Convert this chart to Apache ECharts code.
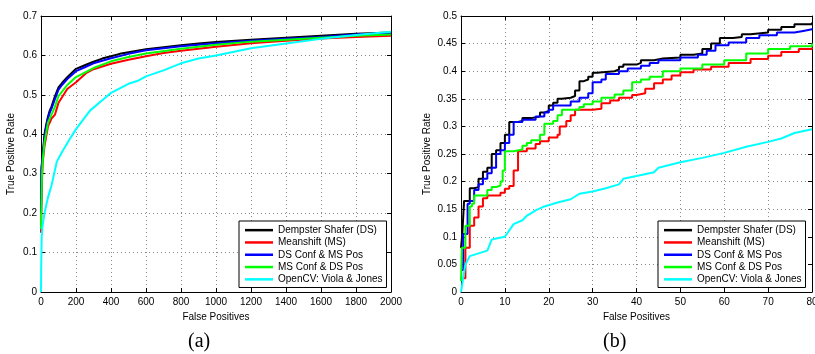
<!DOCTYPE html>
<html>
<head>
<meta charset="utf-8">
<script src="https://cdn.jsdelivr.net/npm/echarts@6/dist/echarts.min.js"></script>
<style>
html,body{margin:0;padding:0;background:#fff;}
#c{width:815px;height:354px;}
</style>
</head>
<body>
<div id="c"></div>
<script>
// ---- Series names ----
const seriesNames = ['Dempster Shafer (DS)', 'Meanshift (MS)', 'DS Conf & MS Pos', 'MS Conf & DS Pos', 'OpenCV: Viola & Jones'];
const seriesColors = ['#000000', '#ff0000', '#0000ff', '#00ff00', '#00ffff'];

// ---- Panel (a): False Positives 0..2000 ----
const aTicksX = [0, 200, 400, 600, 800, 1000, 1200, 1400, 1600, 1800, 2000];
const aTicksY = [0, 0.1, 0.2, 0.3, 0.4, 0.5, 0.6, 0.7];
const aDS = [[0,0.21],[3,0.317],[10,0.35],[20,0.40],[30,0.425],[40,0.445],[50,0.46],[60,0.47],[80,0.497],[100,0.519],[120,0.53],[150,0.545],[200,0.566],[250,0.575],[300,0.584],[350,0.592],[400,0.598],[450,0.604],[500,0.608],[600,0.616],[700,0.621],[800,0.626],[900,0.63],[1000,0.634],[1200,0.64],[1400,0.645],[1600,0.65],[1800,0.655],[2000,0.658]];
const aMS = [[0,0.15],[5,0.28],[10,0.33],[20,0.37],[40,0.42],[60,0.44],[80,0.45],[90,0.465],[100,0.48],[150,0.515],[200,0.532],[260,0.556],[300,0.565],[400,0.579],[500,0.589],[600,0.598],[700,0.606],[800,0.612],[1000,0.622],[1200,0.631],[1400,0.637],[1600,0.643],[1800,0.647],[2000,0.65]];
const aDSConf = [[0,0.2],[3,0.31],[10,0.345],[20,0.39],[30,0.42],[40,0.44],[50,0.455],[60,0.465],[80,0.49],[100,0.513],[120,0.525],[150,0.54],[200,0.56],[250,0.57],[300,0.58],[400,0.593],[500,0.604],[600,0.613],[700,0.618],[800,0.623],[1000,0.631],[1200,0.637],[1400,0.642],[1600,0.647],[1800,0.653],[2000,0.657]];
const aMSConf = [[0,0.16],[5,0.29],[10,0.335],[20,0.38],[40,0.43],[60,0.45],[80,0.47],[100,0.497],[150,0.525],[200,0.545],[300,0.568],[400,0.585],[500,0.596],[600,0.605],[800,0.617],[1000,0.627],[1200,0.635],[1400,0.64],[1600,0.645],[1800,0.65],[2000,0.653]];
const aCV = [[0,0],[1,0.06],[4,0.14],[8,0.165],[20,0.2],[40,0.24],[60,0.27],[80,0.31],[90,0.33],[120,0.355],[160,0.385],[200,0.413],[280,0.46],[360,0.49],[400,0.505],[500,0.528],[550,0.535],[600,0.547],[700,0.562],[800,0.58],[900,0.592],[1000,0.6],[1200,0.618],[1400,0.63],[1600,0.642],[1800,0.652],[2000,0.66]];

// ---- Panel (b): False Positives 0..80 ----
const bTicksX = [0, 10, 20, 30, 40, 50, 60, 70, 80];
const bTicksY = [0, 0.05, 0.1, 0.15, 0.2, 0.25, 0.3, 0.35, 0.4, 0.45, 0.5];
const bDS = [[0,0.08],[0.3,0.105],[0.7,0.165],[2,0.188],[3,0.19],[4,0.205],[5,0.218],[6,0.225],[7,0.25],[8,0.257],[9,0.27],[10,0.285],[11,0.308],[13,0.31],[14,0.315],[16,0.318],[18,0.325],[19,0.328],[20,0.338],[21,0.343],[22,0.35],[23,0.352],[25,0.355],[26,0.365],[27,0.382],[28,0.385],[29,0.39],[30,0.397],[31,0.4],[35,0.403],[36,0.408],[37,0.412],[40,0.415],[41,0.42],[44,0.423],[46,0.425],[50,0.43],[53,0.432],[55,0.44],[57,0.45],[59,0.46],[62,0.462],[64,0.467],[66,0.47],[70,0.475],[73,0.48],[76,0.485],[80,0.488]];
const bMS = [[0,0.025],[1,0.08],[2,0.12],[3,0.135],[4,0.155],[5,0.17],[6,0.175],[9,0.18],[10,0.187],[11,0.192],[12,0.22],[13,0.255],[15,0.26],[17,0.268],[18,0.273],[20,0.28],[22,0.285],[22.5,0.3],[24,0.31],[25,0.32],[26,0.33],[30,0.332],[32,0.342],[34,0.347],[36,0.352],[39,0.357],[40,0.36],[42,0.368],[44,0.378],[46,0.385],[48,0.392],[50,0.398],[53,0.403],[57,0.408],[61,0.415],[66,0.422],[70,0.428],[73,0.435],[77,0.44],[80,0.443]];
const bDSConf = [[0,0.04],[0.5,0.105],[1.5,0.16],[2,0.165],[3,0.185],[4,0.195],[5,0.205],[6,0.215],[7,0.225],[8,0.25],[9,0.257],[10,0.27],[11,0.285],[12,0.308],[14,0.312],[17,0.318],[19,0.325],[20,0.33],[21,0.338],[25,0.345],[27,0.352],[29,0.36],[30,0.38],[32,0.385],[33,0.395],[36,0.4],[38,0.405],[41,0.41],[43,0.415],[45,0.42],[50,0.425],[54,0.43],[56,0.437],[58,0.447],[61,0.452],[65,0.46],[68,0.465],[72,0.47],[76,0.473],[78,0.476],[80,0.478]];
const bMSConf = [[0,0.02],[0.2,0.08],[1,0.12],[2,0.155],[2.5,0.16],[3,0.175],[6,0.185],[7,0.19],[8,0.193],[9,0.2],[9.5,0.22],[10,0.255],[12,0.258],[14,0.265],[15,0.27],[16,0.275],[18,0.285],[19,0.305],[21,0.31],[22,0.32],[23,0.33],[27,0.335],[28,0.34],[30,0.345],[32,0.352],[35,0.358],[37,0.365],[39,0.38],[41,0.385],[43,0.39],[46,0.4],[50,0.405],[55,0.412],[60,0.42],[65,0.432],[70,0.44],[75,0.445],[80,0.45]];
const bCV = [[0,0],[0.3,0.015],[1,0.05],[2,0.065],[4,0.07],[6,0.075],[7,0.095],[10,0.1],[12,0.123],[14,0.13],[15,0.138],[17,0.148],[19,0.155],[22,0.162],[25,0.168],[27,0.178],[30,0.182],[33,0.188],[36,0.195],[37,0.205],[40,0.21],[44,0.217],[45,0.225],[50,0.235],[55,0.243],[60,0.252],[65,0.263],[70,0.272],[73,0.278],[76,0.288],[80,0.295]];

const aData = [aDS, aMS, aDSConf, aMSConf, aCV];
const bData = [bDS, bMS, bDSConf, bMSConf, bCV];

const FONT = 'Liberation Sans, Arial, sans-serif';
const grid = [
  {left: 41, right: 424, top: 16, bottom: 62, outerBoundsMode: 'none', containLabel: false},
  {left: 461, right: 3, top: 16, bottom: 62, outerBoundsMode: 'none', containLabel: false}
];
function xAxes(gi, ticks) {
  const main = {
    type: 'value', gridIndex: gi, min: ticks[0], max: ticks[ticks.length-1],
    interval: ticks[1]-ticks[0], position: 'bottom',
    name: 'False Positives', nameLocation: 'middle', nameGap: 17,
    nameTextStyle: {fontFamily: FONT, fontSize: 10, color: '#000'},
    axisLine: {onZero: false, lineStyle: {color: '#000', width: 1}},
    axisTick: {inside: true, length: 4, lineStyle: {color: '#000'}},
    axisLabel: {fontFamily: FONT, fontSize: 10, color: '#000', margin: 5, showMaxLabel: true,
      hideOverlap: false, formatter: v => String(v)},
    splitLine: {show: true, lineStyle: {color: '#888', type: [1, 3], width: 1}}
  };
  const top = {
    type: 'value', gridIndex: gi, min: ticks[0], max: ticks[ticks.length-1],
    interval: ticks[1]-ticks[0], position: 'top',
    axisLine: {onZero: false, lineStyle: {color: '#000', width: 1}},
    axisTick: {inside: true, length: 4, lineStyle: {color: '#000'}},
    axisLabel: {show: false}, splitLine: {show: false}
  };
  return [main, top];
}
function yAxes(gi, ticks, gap) {
  const iv = Math.round((ticks[1]-ticks[0])*1000)/1000;
  const main = {
    type: 'value', gridIndex: gi, min: ticks[0], max: ticks[ticks.length-1],
    interval: iv, position: 'left',
    name: 'True Positive Rate', nameLocation: 'middle', nameGap: gap,
    nameTextStyle: {fontFamily: FONT, fontSize: 10, color: '#000'},
    axisLine: {onZero: false, lineStyle: {color: '#000', width: 1}},
    axisTick: {inside: true, length: 4, lineStyle: {color: '#000'}},
    axisLabel: {fontFamily: FONT, fontSize: 10, color: '#000', margin: 4,
      formatter: v => String(Math.round(v*100)/100)},
    splitLine: {show: true, lineStyle: {color: '#888', type: [1, 3], width: 1}}
  };
  const right = {
    type: 'value', gridIndex: gi, min: ticks[0], max: ticks[ticks.length-1],
    interval: iv, position: 'right',
    axisLine: {onZero: false, lineStyle: {color: '#000', width: 1}},
    axisTick: {inside: true, length: 4, lineStyle: {color: '#000'}},
    axisLabel: {show: false}, splitLine: {show: false}
  };
  return [main, right];
}

const series = [];
seriesNames.forEach((n, i) => {
  series.push({type: 'line', name: n, xAxisIndex: 0, yAxisIndex: 0, data: aData[i],
    symbol: 'none', lineStyle: {color: seriesColors[i], width: 2}, itemStyle: {color: seriesColors[i]},
    animation: false, z: 2 + i});
});
seriesNames.forEach((n, i) => {
  series.push({type: 'line', name: n, xAxisIndex: 2, yAxisIndex: 2, data: bData[i],
    step: i < 4 ? 'end' : false,
    symbol: 'none', lineStyle: {color: seriesColors[i], width: 2}, itemStyle: {color: seriesColors[i]},
    animation: false, z: 2 + i});
});

function legend(left) {
  return {
    data: seriesNames.map(n => ({name: n, icon: 'rect'})), orient: 'vertical', left: left, top: 221,
    backgroundColor: '#fff', borderColor: '#000', borderWidth: 1,
    padding: [3, 4, 2, 6], itemWidth: 28, itemHeight: 2.5, itemGap: 0,
    textStyle: {fontFamily: FONT, fontSize: 10, lineHeight: 12.3, color: '#000'},
    selectedMode: false, z: 20
  };
}

const chart = echarts.init(document.getElementById('c'), null, {renderer: 'canvas'});
chart.setOption({
  animation: false,
  backgroundColor: '#fff',
  grid: grid,
  xAxis: [...xAxes(0, aTicksX), ...xAxes(1, bTicksX)],
  yAxis: [...yAxes(0, aTicksY, 25), ...yAxes(1, bTicksY, 29)],
  legend: [legend(239), legend(658)],
  series: series,
  graphic: [
    {type: 'text', left: 188, top: 332, style: {text: '(a)', font: '20px "Liberation Serif", "Times New Roman", serif', fill: '#000'}},
    {type: 'text', left: 603, top: 332, style: {text: '(b)', font: '20px "Liberation Serif", "Times New Roman", serif', fill: '#000'}}
  ]
});
</script>
</body>
</html>
